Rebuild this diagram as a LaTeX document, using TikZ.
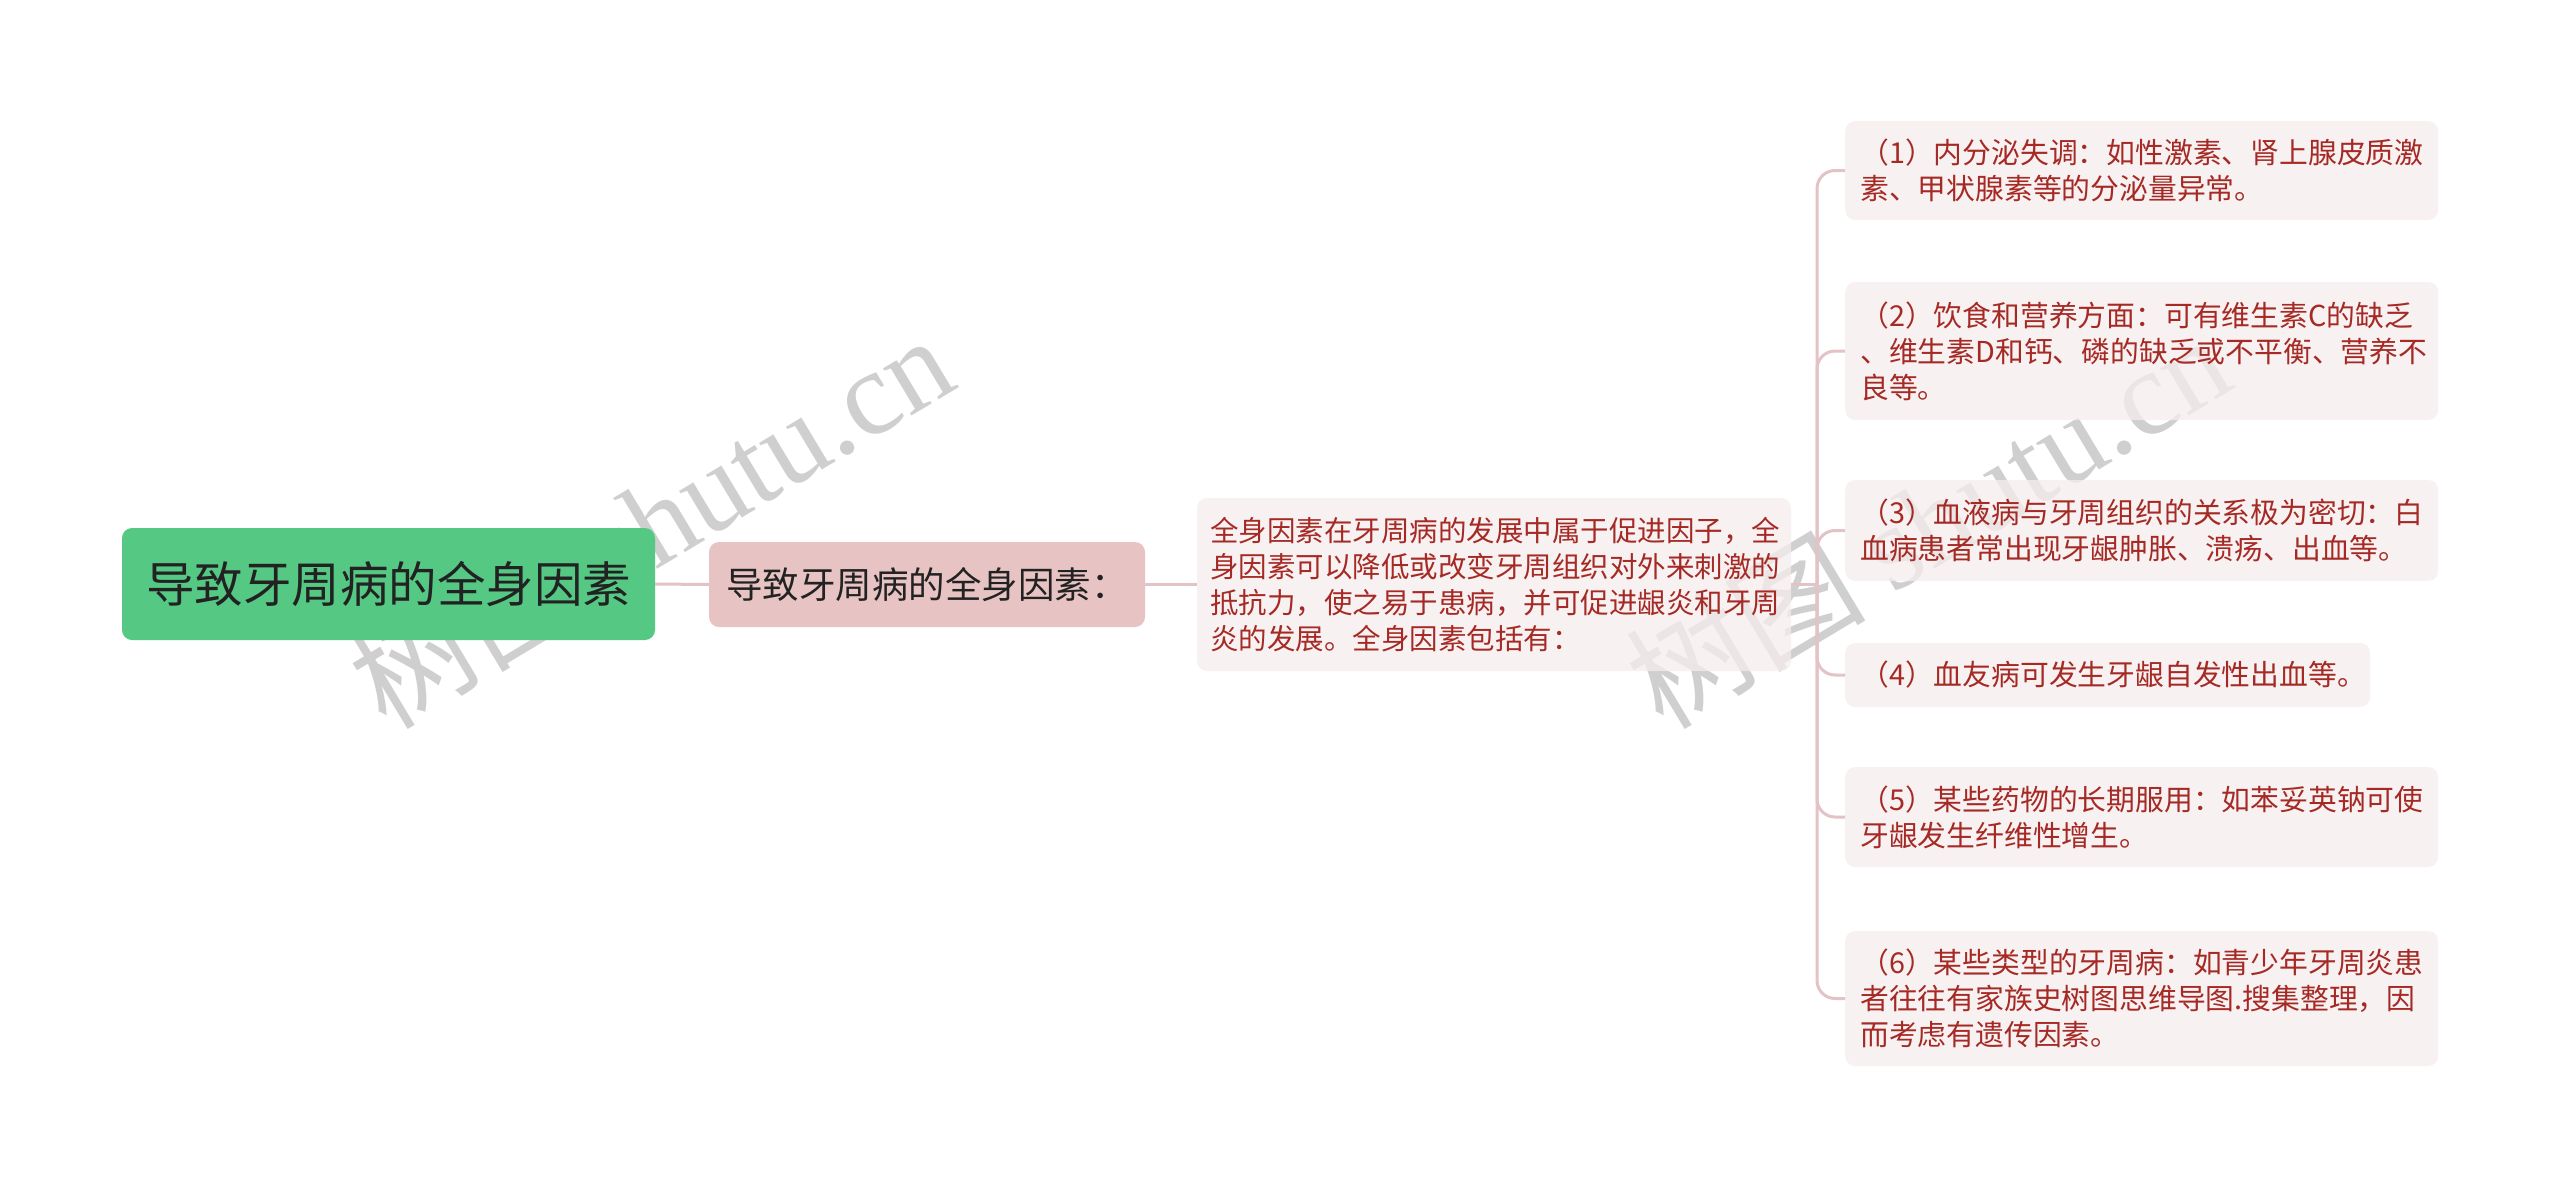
\documentclass[tikz,border=0pt]{standalone}
\usepackage{fontspec}
\setmainfont{Noto Sans CJK SC}
\newfontfamily\wmlatin{Liberation Serif}
\definecolor{rootgreen}{HTML}{55C984}
\definecolor{lonefill}{HTML}{E8C3C3}
\definecolor{childfill}{HTML}{F6EDED}
\definecolor{linepink}{HTML}{E3C3C6}
\definecolor{textred}{HTML}{A52A25}
\definecolor{darktext}{HTML}{222222}
\definecolor{wmgray}{HTML}{CFCFCF}
\begin{document}
\begin{tikzpicture}[x=1pt,y=-1pt,
  rootbox/.style={fill=rootgreen, rounded corners=10pt, minimum width=533pt, minimum height=112pt, inner sep=0pt, text=darktext, font=\fontsize{48.5}{58}\selectfont},
  lonebox/.style={fill=lonefill, rounded corners=10pt, minimum width=436pt, minimum height=85pt, inner sep=0pt, text=darktext, font=\fontsize{36.5}{42}\selectfont},
  ltwobox/.style={fill=childfill, fill opacity=0.75, text opacity=1, rounded corners=10pt, text width=568pt, inner xsep=13pt, inner ysep=0pt, minimum height=173pt, align=left, text=textred, font=\fontsize{28.5}{36}\selectfont},
  childbox/.style={fill=childfill, fill opacity=0.75, text opacity=1, rounded corners=10pt, text width=563pt, inner xsep=15pt, inner ysep=0pt, align=left, anchor=west, text=textred, font=\fontsize{28.8}{36}\selectfont},
  conn/.style={draw=linepink, line width=3pt},
  wmark/.style={text=wmgray, rotate=31, font=\fontsize{120}{130}\selectfont}
]
\useasboundingbox (0,0) rectangle (2560,1189);
\fill[white] (0,0) rectangle (2560,1189);

\node[wmark] (wm1) at (650,520) {树图 {\wmlatin shutu.cn}};
\node[wmark] (wm2) at (1927,520) {树图 {\wmlatin shutu.cn}};

\node[rootbox] (root) at (388.5,584) {导致牙周病的全身因素};
\node[lonebox] (lone) at (927,584.5) {导致牙周病的全身因素：};
\node[ltwobox] (ltwo) at (1494,584.5) {全身因素在牙周病的发展中属于促进因子，全\\身因素可以降低或改变牙周组织对外来刺激的\\抵抗力，使之易于患病，并可促进龈炎和牙周\\炎的发展。全身因素包括有：};

\node[childbox, minimum height=99pt] (c1) at (1845,170.5) {（1）内分泌失调：如性激素、肾上腺皮质激\\素、甲状腺素等的分泌量异常。};
\node[childbox, minimum height=138pt] (c2) at (1845,351) {（2）饮食和营养方面：可有维生素C的缺乏\\、维生素D和钙、磷的缺乏或不平衡、营养不\\良等。};
\node[childbox, minimum height=101pt] (c3) at (1845,530.5) {（3）血液病与牙周组织的关系极为密切：白\\血病患者常出现牙龈肿胀、溃疡、出血等。};
\node[childbox, minimum height=64pt, text width=495pt] (c4) at (1845,675) {（4）血友病可发生牙龈自发性出血等。};
\node[childbox, minimum height=100pt] (c5) at (1845,817) {（5）某些药物的长期服用：如苯妥英钠可使\\牙龈发生纤维性增生。};
\node[childbox, minimum height=135pt] (c6) at (1845,998.5) {（6）某些类型的牙周病：如青少年牙周炎患\\者往往有家族史树图思维导图.搜集整理，因\\而考虑有遗传因素。};

\coordinate (bus) at (1817,584.5);
\draw[conn] (root.east) -- (lone.west);
\draw[conn] (lone.east) -- (ltwo.west);
\draw[conn] (ltwo.east) -- (bus);
\foreach \c in {c1,c2,c3,c4,c5,c6}
  \draw[conn, rounded corners=18pt] (bus) |- (\c.west);
\end{tikzpicture}
\end{document}
